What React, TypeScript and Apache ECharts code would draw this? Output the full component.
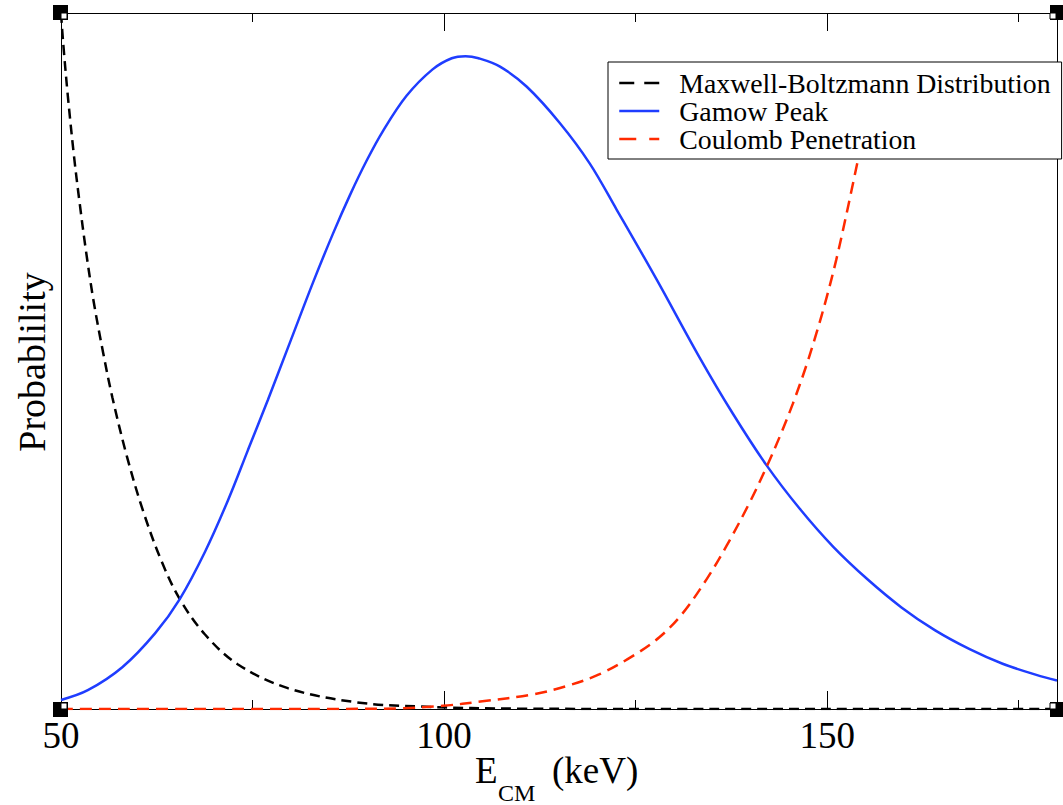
import React, { useEffect, useRef } from "react";
import * as echarts from "echarts";

// Maxwell-Boltzmann distribution (black dashed)
const mbE = [50, 50.3, 50.9, 51.7, 52.4, 53.3, 54.3, 55.5, 56.7, 58.6, 60.7, 63.1, 65.5, 68.8, 73.1, 79.6, 88.3, 97, 110, 130, 155, 180];
const mbP = [100, 95.5, 88, 79.4, 73, 65.5, 58.3, 51.2, 44.8, 36.3, 28.5, 21.3, 15.8, 10.7, 6.4, 3.0, 1.0, 0.35, 0.05, 0, 0, 0];

// Gamow peak (blue solid)
const gE = [50, 53.5, 58, 62.3, 65.5, 68.8, 71.8, 74.4, 77, 80, 82.9, 85.5, 87.7, 89.9, 92, 95.1, 98.5, 101, 102.8, 104.5, 107.3, 110.8, 115.1, 119, 122.5, 127.7, 133.3, 137.6, 142.1, 146.4, 150.8, 155.3, 159.7, 164.1, 168.6, 172.9, 177.3, 180];
const gP = [1.3, 2.7, 6.0, 10.9, 15.8, 22.6, 30.0, 37.2, 44.4, 53.0, 61.3, 68.3, 73.8, 78.8, 83.0, 88.1, 91.9, 93.5, 93.8, 93.5, 92.3, 89.4, 84.2, 78.4, 71.8, 61.8, 50.6, 42.6, 35.0, 28.8, 23.3, 18.6, 14.6, 11.3, 8.6, 6.5, 4.9, 4.1];

// Coulomb penetration (red dashed)
const cE = [50, 70, 85, 94.2, 99.8, 105, 111.6, 116, 120.3, 124.6, 128.1, 131.1, 134.3, 136.9, 139.9, 142.1, 143.8, 145.5, 147.3, 148.6, 149.9, 151.2, 152.5, 154.0];
const cP = [0, 0, 0.01, 0.1, 0.45, 1.1, 2.1, 3.3, 5.0, 7.6, 10.3, 13.7, 18.7, 23.5, 29.7, 34.8, 39.1, 43.8, 49.4, 54.0, 59.0, 64.6, 71.0, 78.8];

const seriesNames = ["Maxwell-Boltzmann Distribution", "Gamow Peak", "Coulomb Penetration"];
const xMin = 50;
const xMax = 180;
const majorStep = 50;
const minorStep = 25;

const SERIF = "'Liberation Serif', 'Times New Roman', serif";

function zip(xs: number[], ys: number[]) {
  return xs.map((x, i) => [x, ys[i]]);
}

export default function App() {
  const ref = useRef<HTMLDivElement>(null);
  useEffect(() => {
    if (!ref.current) return;
    const chart = echarts.init(ref.current, undefined, { renderer: "svg" });
    const baseX = (pos: string, interval: number, len: number, showLine: boolean, showLabel: boolean) => ({
      type: "value",
      min: xMin,
      max: xMax,
      interval,
      position: pos,
      axisLine: { show: showLine, lineStyle: { color: "#000", width: 1 } },
      axisTick: { show: true, inside: true, length: len, lineStyle: { color: "#000", width: 1 } },
      splitLine: { show: false },
      axisLabel: {
        show: showLabel,
        fontFamily: SERIF,
        fontSize: 37,
        color: "#000",
        margin: 8,
        showMaxLabel: false,
      },
    });
    const baseY = (pos: string) => ({
      type: "value",
      min: 0,
      max: 100,
      position: pos,
      axisLine: { show: true, lineStyle: { color: "#000", width: 1 } },
      axisTick: { show: false },
      axisLabel: { show: false },
      splitLine: { show: false },
    });
    const corner = (x: number, y: number, ix: number, iy: number) => [
      { type: "rect", shape: { x, y, width: 15, height: 15 }, style: { fill: "#000" }, z: 100 },
      { type: "rect", shape: { x: ix, y: iy, width: 6, height: 6 }, style: { fill: "#fff", stroke: "#000", lineWidth: 1 }, z: 101 },
    ];
    chart.setOption({
      animation: false,
      backgroundColor: "#fff",
      grid: { left: 61, right: 6, top: 13, bottom: 96, show: false },
      xAxis: [
        baseX("bottom", majorStep, 18, true, true),
        baseX("bottom", minorStep, 9, false, false),
        baseX("top", majorStep, 18, true, false),
        baseX("top", minorStep, 9, false, false),
      ],
      yAxis: [baseY("left"), baseY("right")],
      legend: {
        orient: "vertical",
        left: 608,
        top: 62,
        backgroundColor: "#fff",
        borderColor: "#000",
        borderWidth: 1,
        borderRadius: 0,
        padding: [7, 11, 6, 10],
        itemGap: 0,
        itemWidth: 40,
        itemHeight: 14,
        itemStyle: { opacity: 0 },
        textStyle: { fontFamily: SERIF, fontSize: 27.8, color: "#000", lineHeight: 28, padding: [0, 0, 0, 15] },
        data: [
          { name: seriesNames[0], itemStyle: { opacity: 0 }, lineStyle: { type: [15, 10], width: 2.5, color: "#000" } },
          { name: seriesNames[1], itemStyle: { opacity: 0 }, lineStyle: { width: 2.5, color: "#1f3dff" } },
          { name: seriesNames[2], itemStyle: { opacity: 0 }, lineStyle: { type: [17, 13], width: 2.5, color: "#ff2a00" } },
        ],
        selectedMode: false,
      },
      series: [
        {
          name: seriesNames[0],
          type: "line",
          data: zip(mbE, mbP),
          showSymbol: false,
          symbol: "none",
          smooth: 0.35,
          lineStyle: { color: "#000", width: 2.5, type: [10, 6] },
          itemStyle: { color: "#000" },
          z: 3,
        },
        {
          name: seriesNames[1],
          type: "line",
          data: zip(gE, gP),
          showSymbol: false,
          symbol: "none",
          smooth: 0.35,
          lineStyle: { color: "#1f3dff", width: 2.5 },
          itemStyle: { color: "#1f3dff" },
          z: 4,
        },
        {
          name: seriesNames[2],
          type: "line",
          data: zip(cE, cP),
          showSymbol: false,
          symbol: "none",
          smooth: 0.35,
          lineStyle: { color: "#ff2a00", width: 2.5, type: [12, 7] },
          itemStyle: { color: "#ff2a00" },
          z: 5,
        },
      ],
      graphic: [
        {
          type: "text",
          x: 32,
          y: 362,
          rotation: Math.PI / 2,
          style: { text: "Probablility", font: `38px ${SERIF}`, fill: "#000", align: "center", verticalAlign: "middle" },
        },
        { type: "text", x: 475, y: 770, style: { text: "E", font: `37px ${SERIF}`, fill: "#000", align: "left", verticalAlign: "middle" } },
        { type: "text", x: 498, y: 793, style: { text: "CM", font: `24px ${SERIF}`, fill: "#000", align: "left", verticalAlign: "middle" } },
        { type: "text", x: 552, y: 770, style: { text: "(keV)", font: `37px ${SERIF}`, fill: "#000", align: "left", verticalAlign: "middle" } },
        ...corner(53, 5, 61, 13),
        ...corner(1050, 5, 1050, 13),
        ...corner(53, 702, 61, 703),
        ...corner(1050, 702, 1050, 703),
      ],
    });
    return () => chart.dispose();
  }, []);
  return <div ref={ref} style={{ width: 1063, height: 805, position: "absolute", left: 0, top: 0 }} />;
}
